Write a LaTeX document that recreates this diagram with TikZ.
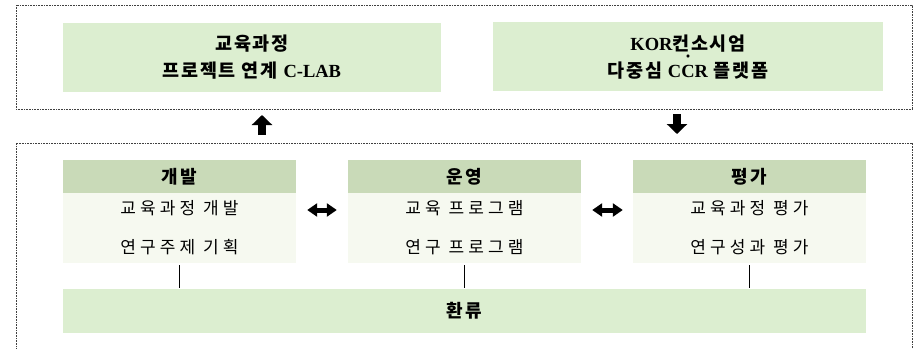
\documentclass[tikz,border=0pt]{standalone}
\usepackage{fontspec}
\setmainfont{Noto Sans CJK KR}
\newfontfamily\widekr{Noto Sans CJK KR}[LetterSpace=24]
\newfontfamily\titlekr{Noto Sans CJK KR}[LetterSpace=9]
\newfontfamily\headkr{Noto Sans CJK KR}[LetterSpace=12]
\newfontfamily\latin{Liberation Serif}
\usetikzlibrary{arrows.meta}
\definecolor{boxgreen}{HTML}{DCEED0}
\definecolor{headgreen}{HTML}{C9DAB8}
\definecolor{bodygreen}{HTML}{F6F9F0}
\newcommand{\tightlines}{\lineskiplimit=-30pt\relax\lineskip=0pt\relax}
\newcommand{\middot}{\raisebox{18pt}{\fontsize{10}{10}\selectfont\textbullet}}
\newcommand{\dotover}[1]{\ooalign{#1\cr\hfil\middot\hfil\cr}}
\tikzstyle{frame}=[draw=black!75,line width=0.6pt,dash pattern=on 0.8pt off 0.8pt,minimum width=896pt]
\tikzstyle{topbox}=[fill=boxgreen,minimum height=69pt,align=center,font=\titlekr\bfseries\fontsize{18.5}{27}\selectfont]
\tikzstyle{head}=[fill=headgreen,minimum width=233pt,minimum height=33pt,font=\headkr\bfseries\fontsize{18}{18}\selectfont]
\tikzstyle{body}=[fill=bodygreen,minimum width=233pt,minimum height=70pt,align=center,font=\widekr\fontsize{17}{39}\selectfont\tightlines]
\tikzstyle{feedback}=[fill=boxgreen,minimum width=803pt,minimum height=44pt,font=\headkr\bfseries\fontsize{18}{18}\selectfont]
\tikzstyle{bigarrow}=[line width=7.5pt,-{Triangle[width=20pt,length=10pt]}]
\tikzstyle{dblarrow}=[line width=5pt,{Triangle[width=13pt,length=10pt]}-{Triangle[width=13pt,length=10pt]}]
\tikzstyle{link}=[line width=1.3pt,shorten <=2pt,shorten >=1pt]

\begin{document}
\begin{tikzpicture}[x=1pt,y=-1pt]
\useasboundingbox (0,0) rectangle (920,348);

\node[frame,minimum height=104pt] (upper) at (464,57) {};
\node[frame,minimum height=213pt] (lower) at (464,249.5) {};

\node[topbox,minimum width=378pt] (clab) at (252,57.5) {교육과정\\프로젝트 연계 {\latin C-LAB}};
\node[topbox,minimum width=390pt] (ccr) at (688,56) {{\latin KOR}컨소시엄\\\dotover{다중심 {\latin CCR} 플랫폼}};

\node[head] (dev) at (179.5,176.5) {개발};
\node[head] (run) at (464.5,176.5) {운영};
\node[head] (eval) at (749.5,176.5) {평가};

\node[body] (devb) at (179.5,228) {교육과정 개발\\연구주제 기획};
\node[body] (runb) at (464.5,228) {교육 프로그램\\연구 프로그램};
\node[body] (evalb) at (749.5,228) {교육과정 평가\\연구성과 평가};

\node[feedback] (fb) at (464.5,311) {환류};

\coordinate (up1) at (262,135);
\coordinate (up2) at (262,115);
\coordinate (dn1) at (677,114);
\coordinate (dn2) at (677,134);

\draw[bigarrow] (up1) -- (up2);
\draw[bigarrow] (dn1) -- (dn2);

\draw[dblarrow,shorten <=11pt,shorten >=11pt] ([yshift=18pt]devb.east) -- ([yshift=18pt]runb.west);
\draw[dblarrow,shorten <=11pt,shorten >=10pt] ([yshift=18pt]runb.east) -- ([yshift=18pt]evalb.west);

\draw[link] (devb.south) -- (devb.south |- fb.north);
\draw[link] (runb.south) -- (runb.south |- fb.north);
\draw[link] (evalb.south) -- (evalb.south |- fb.north);

\end{tikzpicture}
\end{document}
